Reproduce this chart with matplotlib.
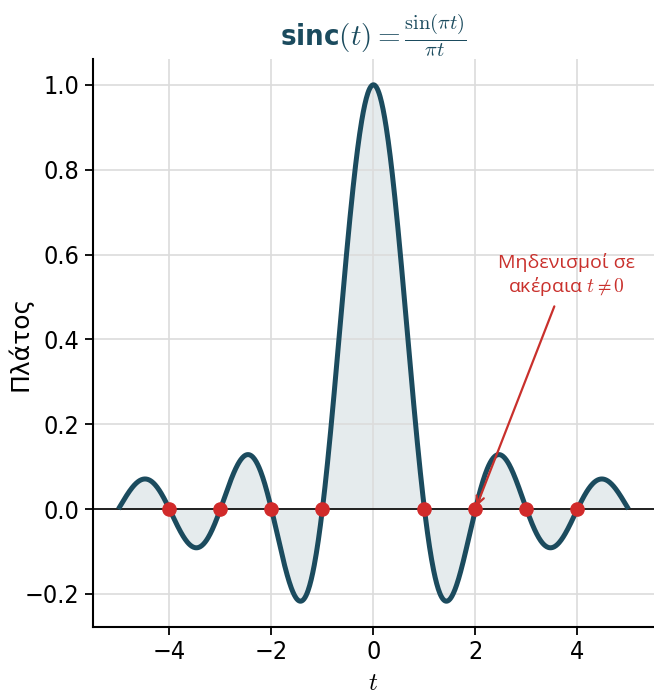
import numpy as np
import matplotlib
matplotlib.use("Agg")
import matplotlib.pyplot as plt

# sinc curve sampled on [-5, 5] and the integer zeros (t != 0)
t = np.linspace(-5, 5, 1001)
y = np.sinc(t)
zeros_t = [-4, -3, -2, -1, 1, 2, 3, 4]
zeros_y = [0, 0, 0, 0, 0, 0, 0, 0]

line_color = "#1b4b5e"
red = "#d12a2a"

plt.rcParams.update({
    "font.family": "DejaVu Sans",
    "font.stretch": "condensed",
    "mathtext.fontset": "cm",
})

fig = plt.figure(figsize=(6.54, 6.94), dpi=100)
ax = fig.add_axes([0.142, 0.0965, 0.858, 0.8185])

ax.grid(True, color="#dcdcdc", linewidth=1.2, zorder=0)
ax.axhline(0, color="black", linewidth=1.2, zorder=2)
ax.fill_between(t, y, 0, color=line_color, alpha=0.11, linewidth=0, zorder=1)
ax.plot(t, y, color=line_color, linewidth=3.6, solid_capstyle="butt", zorder=3)
ax.plot(zeros_t, zeros_y, "o", color=red, markersize=9.5, zorder=4)

ax.annotate("Μηδενισμοί σε\nακέραια $t \\neq 0$", xy=(2, 0), xytext=(3.78, 0.55),
            ha="center", va="center", color="#c9302c", fontsize=14,
            fontfamily="Open Sans", fontstretch="normal",
            arrowprops=dict(arrowstyle="->", color="#c9302c", lw=1.6, shrinkA=4, shrinkB=2))

ax.set_xticks([-4, -2, 0, 2, 4])
ax.set_yticks([-0.2, 0.0, 0.2, 0.4, 0.6, 0.8, 1.0])
ax.tick_params(axis="both", direction="out", length=6, width=1.3, labelsize=18)
for side in ("top", "right"):
    ax.spines[side].set_visible(False)
for side in ("left", "bottom"):
    ax.spines[side].set_linewidth(1.5)

ax.set_xlabel("$t$", fontsize=18, labelpad=5)
ax.set_ylabel("Πλάτος", fontsize=18, fontstretch="normal")
ax.yaxis.set_label_coords(-0.107, 0.5)
ax.set_title(r"sinc$(t) = \frac{\sin(\pi t)}{\pi t}$", fontsize=21,
             fontweight="bold", color=line_color, pad=8)

fig.savefig("out.png", dpi=100)
